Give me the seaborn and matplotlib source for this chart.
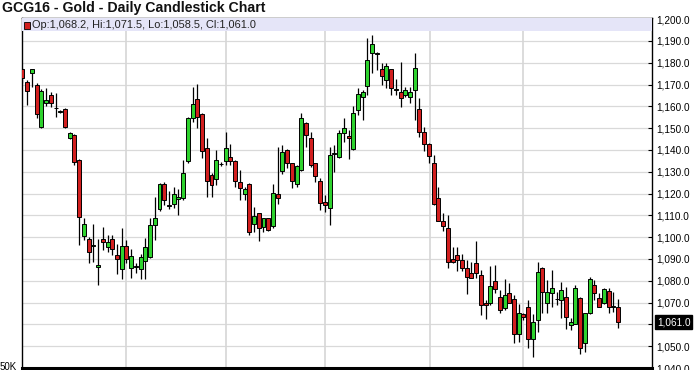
import numpy as np
import pandas as pd
import matplotlib
matplotlib.use("Agg")
import matplotlib.pyplot as plt
import matplotlib.transforms as mtransforms
import seaborn as sns

# ---- data ----
opens = [1176.9, 1171.0, 1175.4, 1169.8, 1150.3, 1161.3, 1165.2, 1159.0, 1157.3, 1158.6,
         1145.3, 1146.8, 1135.4, 1100.6, 1099.0, 1095.9, 1086.1, 1099.0, 1095.6, 1099.0,
         1091.8, 1085.4, 1096.0, 1085.7, 1086.3, 1085.2, 1089.2, 1090.7, 1105.5, 1112.7,
         1124.6, 1114.3, 1115.2, 1117.6, 1117.8, 1134.9, 1154.5, 1163.2, 1156.3, 1140.7,
         1128.5, 1126.5, 1133.4, 1134.9, 1136.6, 1134.9, 1125.1, 1119.8, 1124.6, 1106.0,
         1110.9, 1104.8, 1108.6, 1105.1, 1119.8, 1130.5, 1139.9, 1133.8, 1124.2, 1130.8,
         1152.2, 1145.7, 1133.8, 1125.7, 1116.2, 1113.6, 1138.3, 1136.6, 1147.6, 1146.4,
         1140.2, 1158.3, 1164.1, 1169.3, 1184.6, 1184.0, 1176.9, 1172.0, 1176.9, 1167.7,
         1166.7, 1165.2, 1164.1, 1167.5, 1158.6, 1148.0, 1142.5, 1133.8, 1117.8, 1107.5,
         1104.0, 1089.8, 1091.8, 1089.5, 1085.7, 1083.7, 1088.0, 1082.6, 1069.9, 1069.9,
         1080.0, 1072.7, 1067.3, 1074.6, 1071.6, 1055.8, 1064.6, 1067.8, 1053.5, 1062.0,
         1085.7, 1069.6, 1074.2, 1071.5, 1071.4, 1072.7, 1059.7, 1060.1, 1071.9, 1051.3,
         1065.0, 1078.0, 1071.9, 1069.6, 1075.4, 1068.0, 1068.2]
highs = [1177.5, 1172.0, 1177.0, 1170.5, 1168.0, 1168.2, 1166.7, 1166.0, 1158.3, 1159.0,
         1148.3, 1147.2, 1135.8, 1108.6, 1100.0, 1106.0, 1099.0, 1104.8, 1101.0, 1101.0,
         1096.7, 1104.0, 1098.7, 1094.5, 1088.0, 1092.5, 1099.4, 1108.6, 1118.5, 1125.0,
         1125.4, 1121.3, 1123.0, 1122.3, 1135.4, 1155.0, 1168.7, 1170.2, 1157.0, 1145.7,
         1129.2, 1140.0, 1134.5, 1148.3, 1142.5, 1135.2, 1130.7, 1123.0, 1125.0, 1113.9,
         1111.0, 1108.8, 1108.8, 1124.2, 1141.5, 1142.2, 1140.3, 1134.2, 1132.9, 1157.1,
         1152.6, 1148.3, 1134.2, 1126.9, 1119.3, 1141.5, 1142.2, 1149.1, 1154.5, 1149.1,
         1160.1, 1168.2, 1167.5, 1191.2, 1192.7, 1185.0, 1179.7, 1179.7, 1177.3, 1172.4,
         1180.5, 1169.0, 1169.0, 1184.3, 1163.6, 1150.6, 1143.0, 1137.6, 1123.1, 1111.3,
         1110.1, 1095.6, 1095.6, 1092.5, 1089.5, 1088.7, 1098.2, 1084.9, 1071.1, 1086.7,
         1087.2, 1075.7, 1080.6, 1078.8, 1073.4, 1069.3, 1065.0, 1071.1, 1064.6, 1088.7,
         1086.4, 1080.3, 1084.9, 1075.0, 1079.5, 1077.2, 1062.7, 1078.0, 1072.7, 1065.2,
         1081.8, 1080.3, 1074.2, 1076.5, 1076.5, 1075.0, 1071.5]
lows = [1170.5, 1160.6, 1169.0, 1154.5, 1150.0, 1160.0, 1159.8, 1155.2, 1156.8, 1149.9,
        1145.0, 1133.0, 1096.4, 1098.7, 1088.0, 1088.7, 1078.0, 1094.0, 1093.3, 1091.8,
        1083.0, 1080.6, 1088.0, 1081.5, 1083.7, 1081.0, 1081.0, 1090.3, 1098.7, 1112.0,
        1114.7, 1112.7, 1113.4, 1110.1, 1117.0, 1134.0, 1153.0, 1149.9, 1136.1, 1118.5,
        1118.5, 1123.9, 1132.5, 1133.0, 1133.0, 1123.1, 1117.0, 1117.0, 1101.0, 1102.5,
        1098.3, 1102.5, 1103.0, 1104.0, 1115.0, 1129.0, 1131.6, 1122.4, 1122.8, 1130.5,
        1141.2, 1132.3, 1125.4, 1112.4, 1111.7, 1105.5, 1130.0, 1136.3, 1143.8, 1136.0,
        1139.9, 1156.0, 1153.7, 1165.2, 1175.4, 1176.8, 1169.7, 1168.2, 1165.2, 1165.2,
        1159.8, 1164.4, 1161.7, 1153.7, 1146.0, 1139.6, 1134.1, 1114.7, 1107.2, 1102.9,
        1085.7, 1088.3, 1084.6, 1084.6, 1073.9, 1081.3, 1081.1, 1064.3, 1062.3, 1068.8,
        1074.2, 1065.4, 1066.5, 1069.6, 1051.3, 1052.0, 1062.0, 1049.3, 1045.1, 1056.6,
        1065.0, 1065.0, 1068.1, 1068.8, 1062.7, 1058.1, 1057.4, 1060.0, 1046.4, 1047.4,
        1064.6, 1071.1, 1067.8, 1069.3, 1065.3, 1065.8, 1058.5]
closes = [1172.8, 1167.2, 1176.9, 1156.3, 1167.2, 1162.9, 1161.7, 1159.1, 1157.6, 1150.6,
          1147.6, 1134.6, 1109.4, 1106.0, 1093.3, 1096.1, 1087.2, 1097.9, 1097.9, 1094.4,
          1089.8, 1096.0, 1090.2, 1091.5, 1086.5, 1091.0, 1095.3, 1105.5, 1108.6, 1124.6,
          1117.0, 1114.5, 1119.6, 1118.5, 1129.2, 1154.5, 1160.9, 1155.2, 1139.5, 1125.7,
          1123.9, 1135.4, 1133.6, 1140.7, 1134.9, 1125.7, 1122.4, 1121.9, 1102.5, 1109.8,
          1104.0, 1108.6, 1103.5, 1120.1, 1117.8, 1138.9, 1133.8, 1125.7, 1132.6, 1154.8,
          1146.8, 1133.0, 1128.0, 1115.8, 1114.7, 1137.6, 1138.5, 1147.6, 1149.9, 1145.3,
          1156.8, 1165.6, 1166.4, 1181.2, 1188.4, 1184.2, 1173.9, 1178.5, 1168.2, 1167.9,
          1163.6, 1167.5, 1166.7, 1177.4, 1148.3, 1142.7, 1137.2, 1115.0, 1107.4, 1105.2,
          1088.7, 1088.7, 1089.5, 1085.7, 1081.8, 1081.5, 1083.7, 1068.8, 1068.8, 1077.7,
          1076.2, 1066.5, 1073.4, 1069.9, 1055.8, 1065.0, 1063.2, 1053.5, 1060.9, 1083.8,
          1075.0, 1075.0, 1076.5, 1071.7, 1075.7, 1063.2, 1061.2, 1076.5, 1049.4, 1065.0,
          1080.8, 1074.2, 1068.1, 1076.0, 1068.1, 1068.2, 1061.0]
month_starts = [22, 43, 64, 86.3, 106]
y_ticks = list(range(1040, 1201, 10))
last_price = 1061.0
title = "GCG16 - Gold - Daily Candlestick Chart"
header = "Op:1,068.2, Hi:1,071.5, Lo:1,058.5, Cl:1,061.0"

df = pd.DataFrame({"open": opens, "high": highs, "low": lows, "close": closes})
df["idx"] = np.arange(len(df))
df["up"] = df["close"] >= df["open"]
df["bottom"] = df[["open", "close"]].min(axis=1)
df["height"] = (df["close"] - df["open"]).abs().clip(lower=0.35)

GREEN = "#2ed22e"
RED = "#d21f1f"

sns.set_theme(style="white")
plt.rcParams["font.family"] = ["Liberation Sans", "DejaVu Sans"]

W, H = 696, 370
fig = plt.figure(figsize=(W / 100, H / 100), dpi=100)
fig.patch.set_facecolor("white")
ax = fig.add_axes([21.5 / W, (H - 368) / H, (652 - 21.5) / W, (368 - 18) / H])
ax.set_facecolor("white")

# grid
for v in y_ticks:
    ax.axhline(v, color="#d9d9d9", lw=0.9, zorder=0)
for m in month_starts:
    ax.axvline(m, color="#d6d6d6", lw=1.2, zorder=0)

# wicks
ax.vlines(df["idx"], df["low"], df["high"], color="black", lw=0.9, zorder=2)
# bodies
colors = np.where(df["up"], GREEN, RED)
ax.bar(df["idx"], df["height"], bottom=df["bottom"], width=0.84,
       color=colors, edgecolor="black", linewidth=0.7, zorder=3)

ax.set_xlim(-0.2, 133.2)
ax.set_ylim(1040, 1200.5)

# header band
ax.axhspan(1194.7, 1200.5, color="#e5e5f8", zorder=4, lw=0)

ax.yaxis.tick_right()
ax.set_yticks(y_ticks)
ax.set_yticklabels(["" if v == 1060 else f"{v:,.1f}" for v in y_ticks])
ax.tick_params(axis="y", direction="in", length=3, width=0.8, pad=3,
               labelsize=7.2, colors="black", right=True, left=False)
ax.set_xticks([])
for s in ["left", "right", "top"]:
    ax.spines[s].set_visible(True)
    ax.spines[s].set_color("black")
    ax.spines[s].set_linewidth(1.0)
ax.spines["bottom"].set_color("black")
ax.spines["bottom"].set_linewidth(2.2)

# last price box
box_tr = mtransforms.offset_copy(ax.get_yaxis_transform(), fig=fig, x=3.5, y=0, units="points")
ax.text(1.0, last_price, f"{last_price:,.1f}", transform=box_tr,
        ha="left", va="center", fontsize=7.2, color="white",
        bbox=dict(boxstyle="square,pad=0.18", fc="black", ec="black"), clip_on=False)

# title and header
fig.text(2 / W, 1 - 8 / H, title, ha="left", va="center", fontsize=10.2,
         fontweight="bold", color="#111111")
fig.patches.append(plt.Rectangle((24 / W, 1 - 28.5 / H), 5.5 / W, 6.5 / H,
                                 transform=fig.transFigure, fc=RED, ec="black", lw=0.6))
fig.text(32 / W, 1 - 24.8 / H, header, ha="left", va="center", fontsize=7.95, color="#222222")
fig.text(0 / W, 1 - 362 / H, "50K", ha="left", va="top", fontsize=7, color="black")

fig.savefig("out.png", dpi=100)
